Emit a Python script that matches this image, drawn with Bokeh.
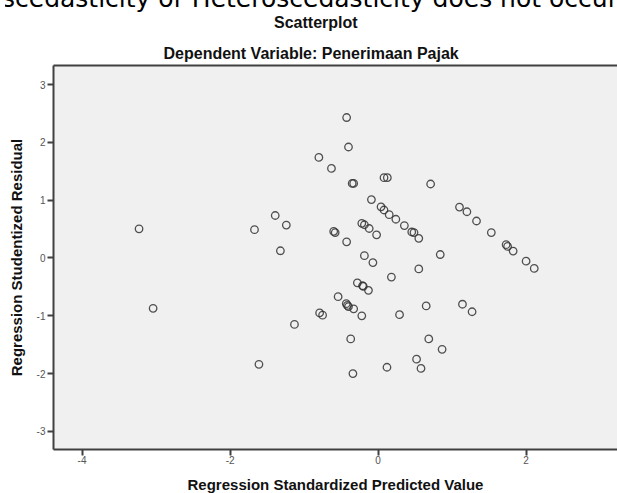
from bokeh.plotting import figure
from bokeh.models import Range1d, FixedTicker, LinearAxis, Title, Div
from bokeh.layouts import column
from bokeh.embed import file_html
from bokeh.resources import INLINE

# Regression Standardized Predicted Value (x) and Studentized Residual (y)
predicted = [-3.23, -3.04, -0.425, -0.40, -0.80, -0.63, -0.35, -0.33, 0.08, 0.125,
             -0.09, 0.04, 0.08, 0.15, 0.24, 0.355, 0.455, 0.485, 0.55, -1.39,
             -1.24, -1.67, -1.32, -0.60, -0.58, -0.425, -0.22, -0.185, -0.12, -0.02,
             -0.185, -0.07, 0.18, 0.55, 0.71, 1.10, 1.20, 1.33, 1.53, 1.73,
             1.75, 1.825, 2.00, 2.11, 0.84, 0.65, 1.14, 1.27, 0.685, 0.865,
             0.52, 0.58, -0.28, -0.21, -0.20, -0.13, -0.54, -0.43, -0.415, -0.40,
             -0.33, -0.22, -0.79, -0.75, -1.13, 0.29, -0.37, -1.61, -0.34, 0.12]
residual = [0.505, -0.87, 2.43, 1.92, 1.74, 1.55, 1.29, 1.29, 1.39, 1.39,
            1.01, 0.885, 0.83, 0.75, 0.67, 0.56, 0.45, 0.44, 0.34, 0.735,
            0.57, 0.49, 0.125, 0.46, 0.44, 0.28, 0.60, 0.575, 0.51, 0.40,
            0.04, -0.08, -0.33, -0.19, 1.28, 0.88, 0.80, 0.64, 0.44, 0.23,
            0.20, 0.12, -0.055, -0.18, 0.06, -0.83, -0.80, -0.93, -1.40, -1.58,
            -1.75, -1.91, -0.43, -0.48, -0.49, -0.56, -0.67, -0.79, -0.82, -0.84,
            -0.88, -1.00, -0.95, -0.99, -1.15, -0.98, -1.40, -1.84, -2.00, -1.89]

x_ticks = [-4, -2, 0, 2]
y_ticks = [-3, -2, -1, 0, 1, 2, 3]
x_tick_labels = ["-4", "-2", "0", "2"]
y_tick_labels = ["-3", "-2", "-1", "0", "1", "2", "3"]

title_text = "Scatterplot"
subtitle_text = "Dependent Variable: Penerimaan Pajak"
x_label = "Regression Standardized Predicted Value"
y_label = "Regression Studentized Residual"
doc_text = "scedasticity or Heteroscedasticity does not occur"

AX = "#404040"
FONT = "Liberation Sans"

p = figure(frame_width=564, frame_height=384, output_backend="svg", toolbar_location=None,
           x_range=Range1d(-4.386, 3.235), y_range=Range1d(-3.313, 3.33),
           min_border_left=53, min_border_top=65, min_border_bottom=44, min_border_right=0,
           background_fill_color="#f0f0f0", border_fill_color=None,
           outline_line_color=None)

p.xgrid.visible = False
p.ygrid.visible = False

for ax, ticks, labels in ((p.xaxis[0], x_ticks, x_tick_labels),
                          (p.yaxis[0], y_ticks, y_tick_labels)):
    ax.ticker = FixedTicker(ticks=ticks)
    ax.major_label_overrides = {t: s for t, s in zip(ticks, labels)}
    ax.minor_tick_line_color = None
    ax.axis_line_color = AX
    ax.axis_line_width = 2
    ax.major_tick_line_color = AX
    ax.major_tick_line_width = 2
    ax.major_tick_out = 6
    ax.major_tick_in = 0
    ax.major_label_text_font = FONT
    ax.major_label_text_font_size = "10px"
    ax.major_label_text_color = "#555555"
    ax.axis_label_text_font = FONT
    ax.axis_label_text_font_size = "15px"
    ax.axis_label_text_font_style = "bold"
    ax.axis_label_text_color = "#111111"

p.xaxis.major_label_standoff = 0
p.xaxis.axis_label = x_label
p.xaxis.axis_label_standoff = 9
p.yaxis.major_label_standoff = 2
p.yaxis.axis_label = y_label
p.yaxis.axis_label_standoff = 9

# top border line of the plot area
top = LinearAxis(ticker=FixedTicker(ticks=[]), axis_line_color=AX, axis_line_width=2,
                 major_label_text_font_size="0px", major_tick_line_color=None,
                 minor_tick_line_color=None, major_tick_out=0, major_label_standoff=0)
p.add_layout(top, "above")

p.add_layout(Title(text=subtitle_text, align="left", offset=110, standoff=8,
                   text_font=FONT, text_font_size="16px", text_font_style="bold",
                   text_color="#111111"), "above")
p.title = Title(text=title_text, align="left", offset=220.5, standoff=16,
                text_font=FONT, text_font_size="16px", text_font_style="bold",
                text_color="#111111")

p.scatter(predicted, residual, marker="circle", size=7.5, fill_color=None,
          line_color="#333333", line_width=1.3, line_alpha=0.85)

# large document text cropped by the top edge of the picture (overlay)
doc = Div(text=('<div style="width:617px; height:0px; overflow-x:clip; overflow-y:visible;">'
                '<div style="position:relative; left:-3px; top:-21px; white-space:nowrap; '
                "font-family:'DejaVu Sans'; font-size:25px; line-height:30px; color:#000;\">"
                + doc_text + '</div></div>'),
          width=617, height=0,
          styles={"overflow": "visible", "position": "absolute", "top": "0px",
                  "left": "0px", "z-index": "10"})

page = column(p, doc, spacing=0)

open("out.html", "w").write(file_html(page, INLINE))
